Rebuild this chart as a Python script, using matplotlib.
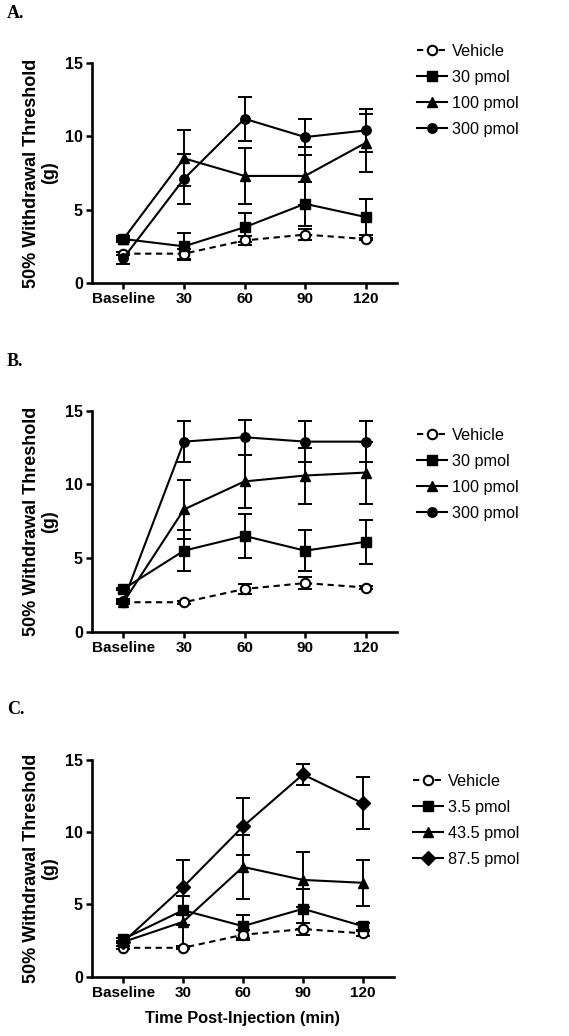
"""Recreate the three-panel withdrawal threshold figure (A, B, C)."""
import matplotlib
matplotlib.use("Agg")
import matplotlib.pyplot as plt

plt.rcParams['font.family'] = ['Liberation Sans', 'DejaVu Sans']

# Shared x categories
x_labels = ['Baseline', '30', '60', '90', '120']

# Panel A
a_names = ['Vehicle', '30 pmol', '100 pmol', '300 pmol']
a_vehicle = [2.0, 2.0, 2.9, 3.3, 3.0]
a_vehicle_err = [0.1, 0.35, 0.3, 0.35, 0.1]
a_30 = [3.0, 2.5, 3.8, 5.4, 4.5]
a_30_err = [0.1, 0.9, 1.0, 1.5, 1.2]
a_100 = [3.0, 8.5, 7.3, 7.3, 9.55]
a_100_err = [0.2, 1.9, 1.9, 2.0, 2.0]
a_300 = [1.7, 7.1, 11.2, 9.95, 10.4]
a_300_err = [0.4, 1.7, 1.5, 1.2, 1.45]

# Panel B
b_names = ['Vehicle', '30 pmol', '100 pmol', '300 pmol']
b_vehicle = [2.0, 2.0, 2.9, 3.3, 3.0]
b_vehicle_err = [0.1, 0.1, 0.35, 0.4, 0.1]
b_30 = [2.9, 5.5, 6.5, 5.5, 6.1]
b_30_err = [0.1, 1.4, 1.5, 1.4, 1.5]
b_100 = [2.0, 8.3, 10.2, 10.6, 10.8]
b_100_err = [0.1, 2.0, 1.8, 1.9, 2.1]
b_300 = [2.1, 12.9, 13.2, 12.9, 12.9]
b_300_err = [0.1, 1.4, 1.2, 1.4, 1.4]

# Panel C
c_names = ['Vehicle', '3.5 pmol', '43.5 pmol', '87.5 pmol']
c_vehicle = [2.0, 2.0, 2.9, 3.3, 3.0]
c_vehicle_err = [0.1, 0.1, 0.35, 0.4, 0.15]
c_35 = [2.6, 4.6, 3.5, 4.7, 3.5]
c_35_err = [0.1, 1.0, 0.8, 1.4, 0.25]
c_435 = [2.4, 3.8, 7.6, 6.7, 6.5]
c_435_err = [0.1, 1.8, 2.2, 1.9, 1.6]
c_875 = [2.4, 6.2, 10.4, 14.0, 12.0]
c_875_err = [0.1, 1.9, 2.0, 0.7, 1.8]

W, H = 569, 1036


def px_axes(fig, left, right, top, bottom):
    """Add axes from pixel edges (top-left origin)."""
    return fig.add_axes([left / W, 1 - bottom / H, (right - left) / W, (bottom - top) / H])


def draw_panel(fig, box, letter, letter_y, names, series, errs, markers,
               legend_xy, xlabel=None):
    ax = px_axes(fig, *box)
    x = list(range(len(x_labels)))

    # Error bars first, lines and markers on top
    for y, e in zip(series, errs):
        ax.errorbar(x, y, yerr=e, fmt='none', ecolor='black', elinewidth=1.4,
                    capsize=4.8, capthick=1.4, zorder=2, clip_on=False)

    handles = []
    for i, (y, m) in enumerate(zip(series, markers)):
        if i == 0:
            ln, = ax.plot(x, y, linestyle=(0, (3, 2.2)), color='black', lw=1.5,
                          marker='o', markersize=6.8, markerfacecolor='white',
                          markeredgewidth=1.5, markeredgecolor='black',
                          label=names[i], zorder=3, clip_on=False)
        else:
            ms = 7.2 if m == '^' else 6.8
            ln, = ax.plot(x, y, linestyle='-', color='black', lw=1.5,
                          marker=m, markersize=ms, markerfacecolor='black',
                          markeredgecolor='black', label=names[i],
                          zorder=3, clip_on=False)
        handles.append(ln)

    ax.set_xlim(-0.52, 4.52)
    ax.set_ylim(0, 15)
    ax.set_yticks([0, 5, 10, 15])
    ax.set_xticks(x)
    ax.set_xticklabels(x_labels)
    for s in ['top', 'right']:
        ax.spines[s].set_visible(False)
    for s in ['left', 'bottom']:
        ax.spines[s].set_linewidth(1.9)
    ax.tick_params(direction='out', length=4, width=1.8, pad=2.5)
    ax.tick_params(axis='x', labelsize=11)
    ax.tick_params(axis='y', labelsize=11.5)
    for lab in ax.get_xticklabels() + ax.get_yticklabels():
        lab.set_fontweight('bold')

    ax.set_ylabel('50% Withdrawal Threshold\n(g)', fontsize=13, fontweight='bold',
                  linespacing=1.05, labelpad=5)
    if xlabel:
        ax.set_xlabel(xlabel, fontsize=11.8, fontweight='bold', labelpad=8)

    fig.text(7 / W, 1 - letter_y / H, letter, family=['Liberation Serif'],
             fontweight='bold', fontsize=13, va='center', ha='left')

    ax.legend(handles=handles, loc='upper left',
              bbox_to_anchor=(legend_xy[0] / W, 1 - legend_xy[1] / H),
              bbox_transform=fig.transFigure, frameon=False, fontsize=11.7,
              borderpad=0, borderaxespad=0, handlelength=1.85,
              handletextpad=0.3, labelspacing=0.68, numpoints=1)
    return ax


fig = plt.figure(figsize=(W / 100, H / 100), dpi=100)

draw_panel(fig, (92, 397, 63, 283), 'A.', 14, a_names,
           [a_vehicle, a_30, a_100, a_300],
           [a_vehicle_err, a_30_err, a_100_err, a_300_err],
           ['o', 's', '^', 'o'], (417, 44))

draw_panel(fig, (92, 397, 410.7, 631.7), 'B.', 361.7, b_names,
           [b_vehicle, b_30, b_100, b_300],
           [b_vehicle_err, b_30_err, b_100_err, b_300_err],
           ['o', 's', '^', 'o'], (417, 428))

draw_panel(fig, (92, 394, 760, 976.7), 'C.', 710, c_names,
           [c_vehicle, c_35, c_435, c_875],
           [c_vehicle_err, c_35_err, c_435_err, c_875_err],
           ['o', 's', '^', 'D'], (413, 774),
           xlabel='Time Post-Injection (min)')

fig.savefig('out.png', dpi=100)
